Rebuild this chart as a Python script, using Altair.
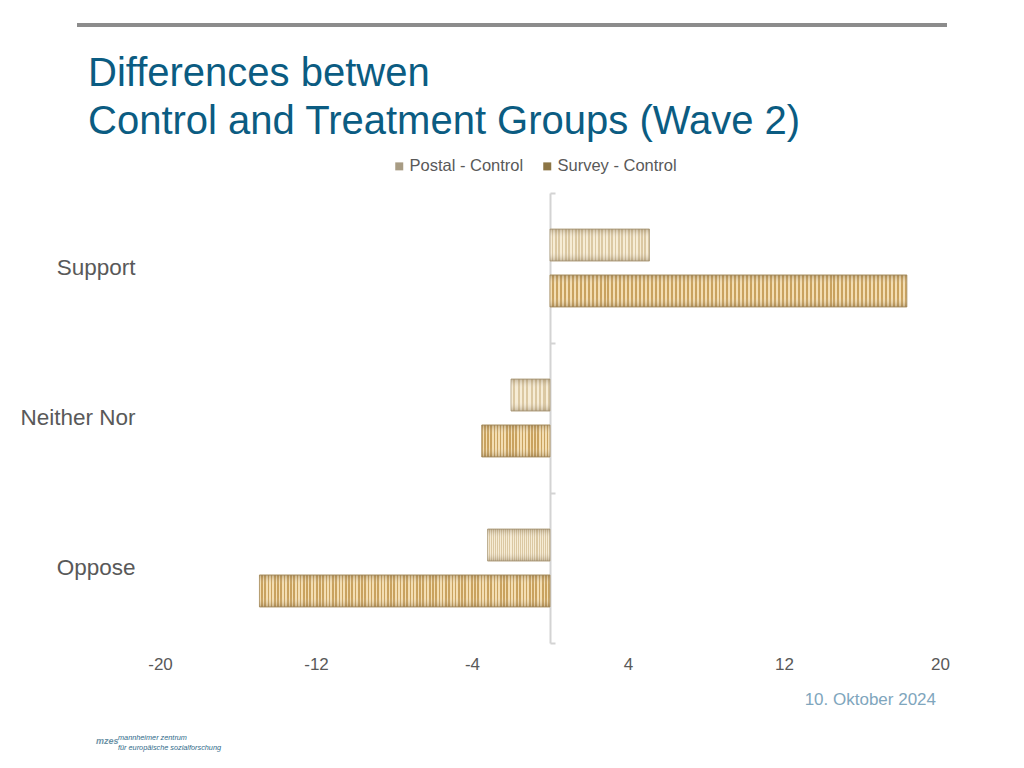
import altair as alt
import pandas as pd

categories = ["Support", "Neither Nor", "Oppose"]
series = ["Postal - Control", "Survey - Control"]
postal_values = [5.1, -2.0, -3.2]
survey_values = [18.3, -3.5, -14.9]
x_ticks = [-20, -12, -4, 4, 12, 20]

rows = []
for c, p, s in zip(categories, postal_values, survey_values):
    rows.append({"category": c, "series": series[0], "value": p})
    rows.append({"category": c, "series": series[1], "value": s})
df = pd.DataFrame(rows)

FONT = "Liberation Sans"
GREY_TXT = "#595959"


def stripes(light, dark, n):
    stops = []
    for i in range(n):
        a = i / n
        b = (i + 0.5) / n
        e = (i + 1) / n
        stops += [alt.GradientStop(offset=a, color=light), alt.GradientStop(offset=b, color=light),
                  alt.GradientStop(offset=b, color=dark), alt.GradientStop(offset=e, color=dark)]
    return alt.LinearGradient(gradient="linear", stops=stops, x1=0, x2=1, y1=0, y2=0)


y_scale = alt.Scale(domain=categories, paddingInner=0, paddingOuter=0)
y_main = alt.Y("category:N", sort=categories, title=None, scale=y_scale,
               axis=alt.Axis(domain=False, ticks=False, tickSize=0, labelPadding=25,
                             labelFontSize=22.5, labelColor=GREY_TXT, labelFont=FONT))
y_plain = alt.Y("category:N", sort=categories, title=None, scale=y_scale, axis=None)
yoff_enc = alt.YOffset("series:N", sort=series,
                       scale=alt.Scale(domain=series, paddingInner=0.303, paddingOuter=0.784))
x_enc = alt.X("value:Q", title=None,
              scale=alt.Scale(domain=[-20, 20], nice=False),
              axis=alt.Axis(values=x_ticks, grid=False, domain=False, ticks=False, tickSize=0,
                            labelExpr="toString(datum.value)", labelFlush=False, labelOverlap=False,
                            labelPadding=13, labelFontSize=17, labelColor=GREY_TXT, labelFont=FONT))

base = alt.Chart(df)

legend_bars = base.mark_bar().encode(
    x=x_enc, y=y_main, yOffset=yoff_enc,
    color=alt.Color("series:N", sort=series, title=None,
                    scale=alt.Scale(domain=series, range=["#a89c84", "#8c7545"]),
                    legend=alt.Legend(orient="none", legendX=231, legendY=-35, direction="horizontal",
                                      symbolType="square", symbolSize=64, symbolStrokeWidth=0,
                                      labelFontSize=16.5, labelColor=GREY_TXT, labelFont=FONT,
                                      labelOffset=2, columnPadding=15)),
)

postal_bars = base.transform_filter(alt.datum.series == series[0]).mark_bar(
    fill=stripes("#f6ebd3", "#d9c59d", 30), stroke="#b9aa8c", strokeWidth=1
).encode(x=x_enc, y=y_plain, yOffset=yoff_enc)

survey_bars = base.transform_filter(alt.datum.series == series[1]).mark_bar(
    fill=stripes("#f3dcae", "#c69d56", 90), stroke="#b39a6c", strokeWidth=1
).encode(x=x_enc, y=y_plain, yOffset=yoff_enc)

bevel = alt.LinearGradient(
    gradient="linear", x1=0, x2=0, y1=0, y2=1,
    stops=[alt.GradientStop(offset=0, color="rgba(110,90,60,0.35)"),
           alt.GradientStop(offset=0.3, color="rgba(255,255,255,0.05)"),
           alt.GradientStop(offset=0.7, color="rgba(255,255,255,0.05)"),
           alt.GradientStop(offset=1, color="rgba(110,90,60,0.35)")])

overlay = base.mark_bar(fill=bevel).encode(
    x=x_enc,
    y=alt.Y("category:N", sort=categories, title=None, scale=y_scale,
            axis=alt.Axis(orient="right", offset=-390, labels=False, domain=True, domainColor="#d3d3d3",
                          domainWidth=2, ticks=True, tickColor="#d3d3d3", tickWidth=2, tickSize=5,
                          tickBand="extent", grid=False)),
    yOffset=yoff_enc,
)

one = pd.DataFrame({"k": [0]})
title_text = alt.Chart(one).mark_text(
    text=["Differences betwen", "Control and Treatment Groups (Wave 2)"],
    align="left", baseline="alphabetic", font=FONT, fontSize=40, lineHeight=48, color="#0b5c82"
).encode(x=alt.value(-72), y=alt.value(-107))

top_rule = alt.Chart(one).mark_rule(color="#8c8c8c", strokeWidth=4).encode(
    x=alt.value(-83), x2=alt.value(787), y=alt.value(-168))

date_text = alt.Chart(one).mark_text(
    text="10. Oktober 2024", align="right", baseline="middle", font=FONT, fontSize=17, color="#7fa6bd"
).encode(x=alt.value(776), y=alt.value(507))

logo_text = alt.Chart(one).mark_text(
    text=["mannheimer zentrum", "für europäische sozialforschung"], align="left", baseline="middle",
    font=FONT, fontSize=7.3, fontStyle="italic", lineHeight=10, color="#2f6b8a"
).encode(x=alt.value(-42), y=alt.value(545))

logo_mzes = alt.Chart(one).mark_text(
    text="mzes", align="left", baseline="middle", font=FONT, fontSize=9, fontStyle="italic",
    fontWeight="bold", color="#6d93a6"
).encode(x=alt.value(-64), y=alt.value(548))

chart = alt.layer(
    legend_bars, postal_bars, survey_bars, overlay, title_text, top_rule, date_text, logo_text, logo_mzes
).resolve_axis(y="independent").properties(
    width=780, height=450,
    background="white",
    autosize=alt.AutoSizeParams(type="none"),
    padding={"left": 152, "top": 185, "right": 60, "bottom": 110},
).configure_view(strokeWidth=0, stroke="transparent")

chart.save("out.html", embed_options={"renderer": "svg", "actions": False})
